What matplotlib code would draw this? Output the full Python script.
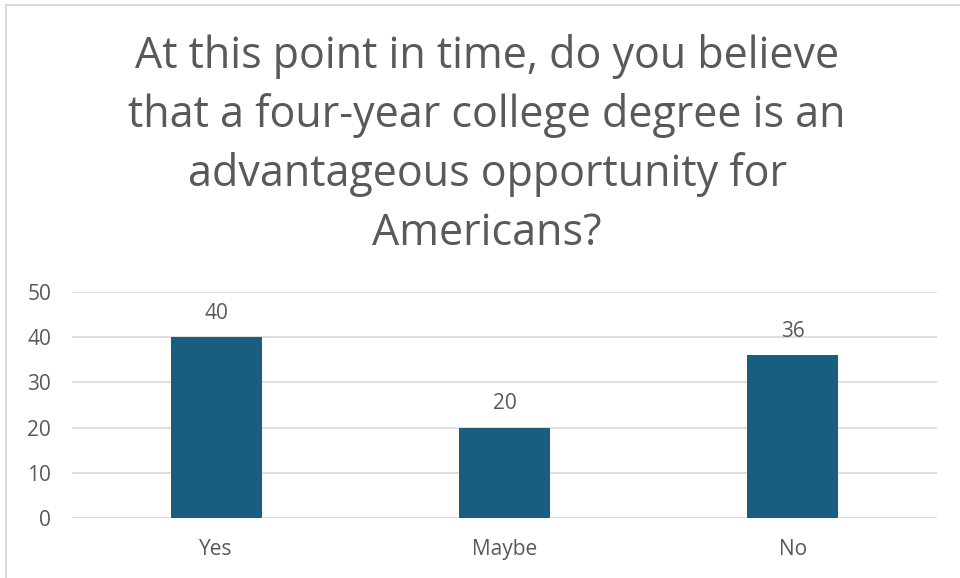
import matplotlib.pyplot as plt
from matplotlib.patches import Rectangle

categories = ['Yes', 'Maybe', 'No']
values = [40, 20, 36]
yticks = [0, 10, 20, 30, 40, 50]

title = ('At this point in time, do you believe\n'
         'that a four-year college degree is an\n'
         'advantageous opportunity for\n'
         'Americans?')

plt.rcParams['font.family'] = ['Open Sans', 'DejaVu Sans']
grey = '#595959'

fig = plt.figure(figsize=(9.6, 5.78), dpi=100)
# outer chart border
fig.patches.append(Rectangle((6 / 960, -0.05), 1.0, 1.05 - 5 / 578, transform=fig.transFigure,
                             fill=False, edgecolor='#d9d9d9', linewidth=1.5))

ax = fig.add_axes([0.075, 1 - 518 / 578, 0.901, (518 - 292) / 578])
x = range(len(categories))
bars = ax.bar(x, values, width=0.316, color='#185f7f', zorder=3)
for b, v in zip(bars, values):
    ax.text(b.get_x() + b.get_width() / 2, v + 3.0, str(v), ha='center', va='bottom',
            fontsize=15, color=grey)

ax.set_xlim(-0.5, 2.5)
ax.set_ylim(0, 50)
ax.set_yticks(yticks)
ax.set_xticks(list(x))
ax.set_xticklabels(categories)
ax.grid(axis='y', color='#d9d9d9', linewidth=1.2, zorder=0)
for s in ax.spines.values():
    s.set_visible(False)
ax.tick_params(axis='both', length=0, labelsize=15, labelcolor=grey)
ax.tick_params(axis='x', pad=15)
ax.tick_params(axis='y', pad=15)

fig.text(487 / 960, 1 - 145 / 578, title, ha='center', va='center', fontsize=31,
         color=grey, linespacing=1.42)

fig.savefig('out.png', dpi=100)
